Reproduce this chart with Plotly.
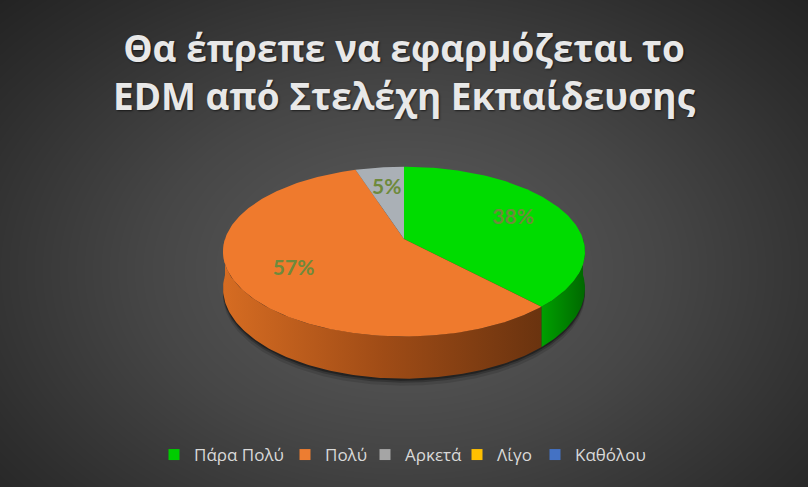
import numpy as np
import plotly.graph_objects as go

# ---- data -------------------------------------------------------------
categories = ["Πάρα Πολύ", "Πολύ", "Αρκετά", "Λίγο", "Καθόλου"]
values = [38, 57, 5, 0, 0]
title_lines = ["Θα έπρεπε να εφαρμόζεται το", "EDM από Στελέχη Εκπαίδευσης"]

# ---- styling ----------------------------------------------------------
top_colors = ["#00dc00", "#ef7a2d", "#aab0b6", "#ffc000", "#4472c4"]
legend_colors = ["#00cc00", "#ed7d31", "#a5a5a5", "#ffc000", "#4472c4"]
side_scales = [
    [[0, "#00a000"], [1, "#006800"]],
    [[0, "#d66c22"], [0.5, "#a04c16"], [1, "#6a330f"]],
    [[0, "#8a8e92"], [1, "#5c5f62"]],
    [[0, "#c89600"], [1, "#8a6800"]],
    [[0, "#345a9c"], [1, "#22406e"]],
]
# left edge (px) of each legend entry along the bottom row
legend_left_px = [154, 285, 365, 457, 535]

W, H = 808, 487
CX, CY = 404, 239        # projected pie centre
RX, RY = 179, 83         # radii of the tilted disc
PERSP = 0.148            # perspective strength (front larger than back)
DEPTH = 36               # thickness of the pie
LABEL_R = 0.68


def project(theta_deg, r=1.0):
    """Angle measured clockwise from 12 o'clock -> screen coords."""
    t = np.radians(theta_deg)
    u = r * np.sin(t)
    v = -r * np.cos(t)
    s = 1.0 / (1.0 - PERSP * v)
    return CX + RX * u * s, CY + RY * v * s, s


fig = go.Figure()

# background: soft radial vignette
gx = np.linspace(0, W, 82)
gy = np.linspace(0, H, 50)
XX, YY = np.meshgrid(gx, gy)
dist = np.sqrt(((XX - 404) / 520) ** 2 + ((YY - 270) / 360) ** 2)
fig.add_trace(go.Heatmap(
    x=gx, y=gy, z=dist, zsmooth="best", showscale=False, hoverinfo="skip",
    colorscale=[[0, "#5e5e5e"], [0.45, "#464646"], [0.8, "#2e2e2e"], [1, "#222222"]],
    zmin=0, zmax=1.1,
))

total = float(sum(values))
bounds = []
start = 0.0
for v in values:
    span = v / total * 360.0
    bounds.append((start, start + span))
    start += span

# soft shadow below the base
ang = np.linspace(0, 360, 361)
bx, by, bs = project(ang)
for off, alpha in [(7, 0.12), (4, 0.22), (2, 0.35)]:
    fig.add_trace(go.Scatter(
        x=bx, y=by + DEPTH * bs + off, mode="lines", fill="toself",
        fillcolor=f"rgba(0,0,0,{alpha})", line=dict(width=0),
        hoverinfo="skip", showlegend=False,
    ))

# visible side walls (front half of the disc)
for (a, b), scale, v in zip(bounds, side_scales, values):
    lo, hi = max(a, 90.0), min(b, 270.0)
    if v <= 0 or hi <= lo:
        continue
    t = np.linspace(lo, hi, max(int(hi - lo) + 2, 3))
    tx, ty, ts = project(t)
    xs = np.concatenate([tx, tx[::-1]])
    ys = np.concatenate([ty, (ty + DEPTH * ts)[::-1]])
    fig.add_trace(go.Scatter(
        x=xs, y=ys, mode="lines", fill="toself",
        fillgradient=dict(type="horizontal", colorscale=scale),
        line=dict(width=0), hoverinfo="skip", showlegend=False,
    ))

# top faces
for (a, b), col, v in zip(bounds, top_colors, values):
    if v <= 0:
        continue
    t = np.linspace(a, b, max(int(b - a) + 2, 3))
    tx, ty, _ = project(t)
    fig.add_trace(go.Scatter(
        x=np.concatenate([[CX], tx, [CX]]), y=np.concatenate([[CY], ty, [CY]]),
        mode="lines", fill="toself", fillcolor=col, line=dict(width=0),
        hoverinfo="skip", showlegend=False,
    ))

# percentage labels
lx, ly, lt = [], [], []
for (a, b), v in zip(bounds, values):
    if v <= 0:
        continue
    px, py, _ = project((a + b) / 2.0, LABEL_R)
    lx.append(px)
    ly.append(py)
    lt.append(f"{round(v / total * 100)}%")
fig.add_trace(go.Scatter(
    x=lx, y=ly, text=lt, mode="text", hoverinfo="skip", showlegend=False,
    textfont=dict(family="Lato, Open Sans, sans-serif", size=21,
                  color="#6e8a3c", weight="bold"),
))

# legend entries, one small legend per category so the row can be spaced freely
legend_layouts = {}
for i, (name, col, left) in enumerate(zip(categories, legend_colors, legend_left_px)):
    key = "legend" if i == 0 else f"legend{i + 1}"
    fig.add_trace(go.Scatter(
        x=[None], y=[None], mode="markers", name=name, legend=key,
        marker=dict(symbol="square", size=11, color=col),
    ))
    legend_layouts[key] = dict(
        orientation="h", x=left / W, xanchor="left",
        y=1 - 455 / H, yanchor="middle",
        font=dict(family="Open Sans, sans-serif", size=17, color="#d9d9d9"),
        bgcolor="rgba(0,0,0,0)", borderwidth=0,
        itemclick=False, itemdoubleclick=False,
    )

fig.update_layout(
    width=W, height=H,
    margin=dict(l=0, r=0, t=0, b=0),
    paper_bgcolor="#2a2a2a", plot_bgcolor="rgba(0,0,0,0)",
    xaxis=dict(range=[0, W], visible=False, fixedrange=True),
    yaxis=dict(range=[H, 0], visible=False, fixedrange=True),
    title=dict(
        text="<br>".join(title_lines), x=0.5, xanchor="center",
        y=1 - 62 / H, yanchor="middle",
        font=dict(family="Open Sans, sans-serif", size=37, color="#e8e8e8",
                  weight="bold", shadow="1px 1px 2px rgba(0,0,0,0.6)"),
    ),
    showlegend=True,
    **legend_layouts,
)

fig.write_html("out.html")
